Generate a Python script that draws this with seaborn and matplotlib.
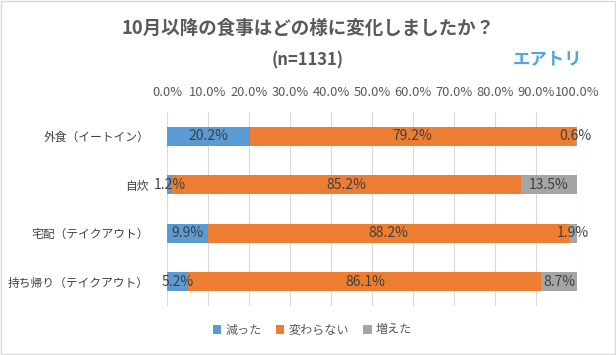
import matplotlib
matplotlib.use("Agg")
import matplotlib.pyplot as plt
import pandas as pd
import seaborn as sns
from matplotlib.patches import Patch, Rectangle

# data
categories = ['外食（イートイン）', '自炊', '宅配（テイクアウト）', '持ち帰り（テイクアウト）']
decreased = [20.2, 1.2, 9.9, 5.2]
unchanged = [79.2, 85.2, 88.2, 86.1]
increased = [0.6, 13.5, 1.9, 8.7]
series_names = ['減った', '変わらない', '増えた']
x_ticks = [0, 10, 20, 30, 40, 50, 60, 70, 80, 90, 100]

colors = ['#5B9BD5', '#ED7D31', '#A5A5A5']
text_color = '#404040'

sns.set_style('white')
plt.rcParams['font.family'] = ['Noto Sans CJK JP', 'DejaVu Sans']

df = pd.DataFrame({'category': categories, 'dec': decreased, 'same': unchanged, 'inc': increased})
df['cum1'] = df['dec']
df['cum2'] = df['dec'] + df['same']
df['cum3'] = df['cum2'] + df['inc']

fig = plt.figure(figsize=(6.16, 3.55), dpi=100)
ax = fig.add_axes([167 / 616, 1 - 306 / 355, 410 / 616, 194 / 355])

# stacked bars: draw cumulative totals from the largest down
for col, c in zip(['cum3', 'cum2', 'cum1'], colors[::-1]):
    sns.barplot(data=df, x=col, y='category', orient='h', color=c, saturation=1,
                width=0.39, ax=ax, linewidth=0)

# segment labels
for i, row in df.iterrows():
    left = 0
    for v in [row['dec'], row['same'], row['inc']]:
        ax.text(left + v / 2, i, '{:.1f}%'.format(v), ha='center', va='center',
                fontsize=10, color=text_color)
        left += v

ax.set_xlim(0, 100)
ax.set_xticks(x_ticks)
ax.set_xticklabels(['{:.1f}%'.format(t) for t in x_ticks])
ax.xaxis.tick_top()
ax.tick_params(axis='x', length=0, pad=9, labelsize=9.3, labelcolor='#595959')
ax.tick_params(axis='y', length=0, pad=13, labelsize=8.5, labelcolor=text_color)
ax.set_xlabel('')
ax.set_ylabel('')
ax.grid(axis='x', color='#D9D9D9', linewidth=0.8)
ax.grid(axis='y', visible=False)
ax.set_axisbelow(True)
for s in ax.spines.values():
    s.set_visible(False)

fig.text(0.5, 1 - 28 / 355, '10月以降の食事はどの様に変化しましたか？', ha='center', va='center',
         fontsize=13.3, fontweight='bold', color='#595959')
fig.text(0.5, 1 - 60 / 355, '(n=1131)', ha='center', va='center',
         fontsize=12, fontweight='bold', color='#595959')
fig.text(547 / 616, 1 - 59 / 355, 'エアトリ', ha='center', va='center',
         fontsize=12.5, fontweight='bold', color='#4FA6DC')

handles = [Patch(facecolor=c, edgecolor='none') for c in colors]
fig.legend(handles, series_names, loc='center', bbox_to_anchor=(0.507, 1 - 330 / 355), ncol=3,
           frameon=False, handlelength=0.7, handleheight=0.7, handletextpad=0.3,
           columnspacing=1.2, fontsize=8.7, labelcolor='#595959')

fig.patches.append(Rectangle((0.002, 0.003), 0.996, 0.994, transform=fig.transFigure,
                             fill=False, edgecolor='#D9D9D9', linewidth=1))

fig.savefig('out.png', dpi=100)
